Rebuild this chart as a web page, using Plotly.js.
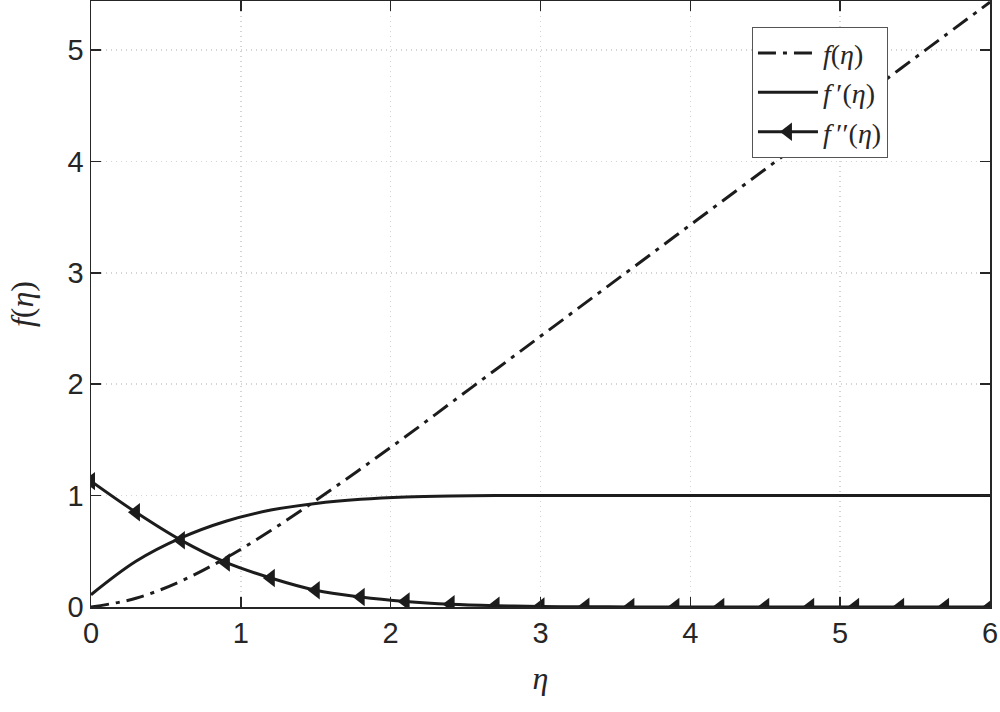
<!DOCTYPE html>
<html>
<head>
<meta charset="utf-8">
<script src="https://cdn.plot.ly/plotly-3.0.1.min.js"></script>
<style>
  html, body { margin: 0; padding: 0; background: #fff; }
  #grafico { width: 1000px; height: 712px; }
</style>
</head>
<body>
<div id="grafico"></div>
<script>
// valores, passo de 0.3 em eta
const eta = [0, 0.3, 0.6, 0.9, 1.2, 1.5, 1.8, 2.1, 2.4, 2.7, 3.0,
             3.3, 3.6, 3.9, 4.2, 4.5, 4.8, 5.1, 5.4, 5.7, 6.0];
const fEta = [0, 0.078, 0.232, 0.44, 0.686, 0.956, 1.24, 1.53, 1.83, 2.13, 2.43,
              2.73, 3.03, 3.33, 3.63, 3.93, 4.23, 4.53, 4.83, 5.13, 5.43];
const fpEta = [0.11, 0.41, 0.62, 0.77, 0.87, 0.93, 0.967, 0.988, 0.997, 1.0, 1.0,
               1.0, 1.0, 1.0, 1.0, 1.0, 1.0, 1.0, 1.0, 1.0, 1.0];
const fppEta = [1.13, 0.85, 0.60, 0.40, 0.26, 0.15, 0.09, 0.05, 0.025, 0.012, 0.005,
                0.002, 0.001, 0, 0, 0, 0, 0, 0, 0, 0];

const cor = "#1c1c1c";
const eixo = "#262626";
const serif = "'Liberation Serif', 'DejaVu Serif', serif";

const traceF = {
  x: eta, y: fEta,
  type: "scatter", mode: "lines",
  name: "<i>f</i>(<i>η</i>)",
  line: { color: cor, width: 3, dash: "18px,7px,4px,7px", shape: "spline" },
};

const traceFp = {
  x: eta, y: fpEta,
  type: "scatter", mode: "lines",
  name: "<i>f</i>\u2009′(<i>η</i>)",
  line: { color: cor, width: 3, shape: "spline" },
};

const traceFpp = {
  x: eta, y: fppEta,
  type: "scatter", mode: "lines+markers",
  name: "<i>f</i>\u2009′′(<i>η</i>)",
  line: { color: cor, width: 3, shape: "spline" },
  marker: { symbol: "triangle-left", size: 16, color: cor },
};

const eixoBase = {
  showline: true,
  linecolor: eixo,
  linewidth: 1.5,
  mirror: "ticks",
  ticks: "inside",
  ticklen: 10,
  tickwidth: 1.5,
  tickcolor: eixo,
  tickfont: { family: "'Liberation Sans', Arial, sans-serif", size: 29, color: eixo },
  ticklabeloverflow: "allow",
  showgrid: true,
  gridcolor: "#d4d4d4",
  griddash: "1px,4px",
  gridwidth: 1.5,
  zeroline: false,
};

const layout = {
  width: 1000,
  height: 712,
  paper_bgcolor: "#fff",
  plot_bgcolor: "#fff",
  showlegend: true,
  margin: { l: 91, r: 10, t: 1, b: 105 },
  xaxis: Object.assign({}, eixoBase, {
    range: [0, 6],
    tickvals: [0, 1, 2, 3, 4, 5, 6],
    title: {
      text: "<i>η</i>",
      font: { family: serif, size: 32, color: eixo },
      standoff: 18,
    },
  }),
  yaxis: Object.assign({}, eixoBase, {
    range: [0, 5.44],
    tickvals: [0, 1, 2, 3, 4, 5],
    title: {
      text: "<i>f</i>(<i>η</i>)",
      font: { family: serif, size: 32, color: eixo },
      standoff: 24,
    },
  }),
  legend: {
    x: 0.735,
    y: 0.957,
    xanchor: "left",
    yanchor: "top",
    bgcolor: "#fff",
    bordercolor: "#555",
    borderwidth: 1.2,
    font: { family: serif, size: 28, color: eixo },
    itemwidth: 60,
    tracegroupgap: 0,
  },
};

Plotly.newPlot("grafico", [traceF, traceFp, traceFpp], layout, { displayModeBar: false, staticPlot: true });
</script>
</body>
</html>
